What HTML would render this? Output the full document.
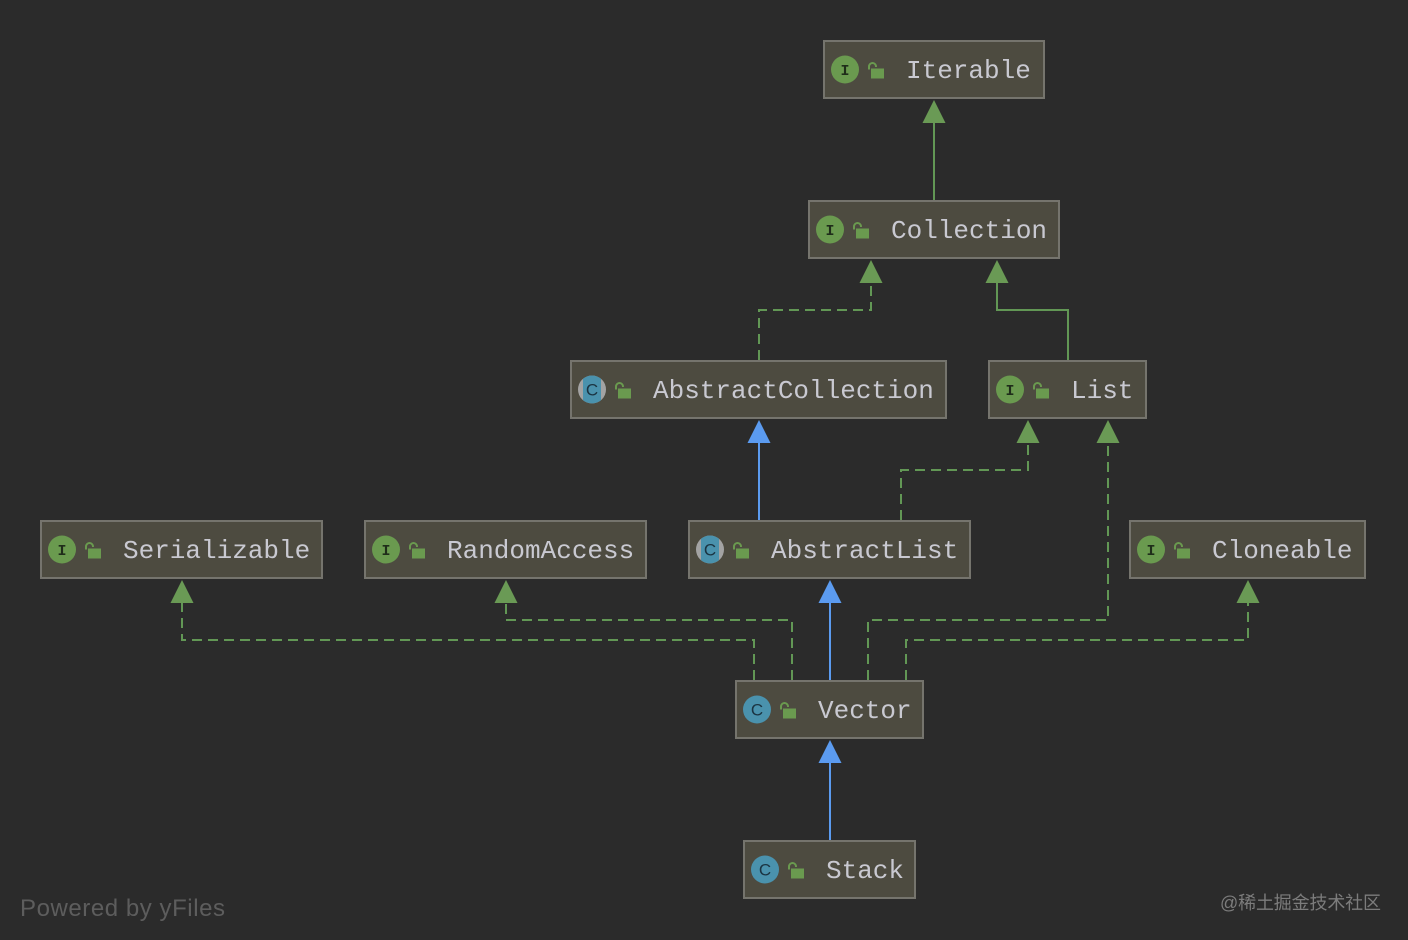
<!DOCTYPE html>
<html><head><meta charset="utf-8"><style>
html,body{margin:0;padding:0;background:#2b2b2b;}
svg{display:block;}
.t{font-family:"Liberation Mono",monospace;font-size:26px;fill:#c9c9d1;}
.ic{font-family:"Liberation Mono",monospace;font-size:15px;font-weight:bold;fill:#1f2d1a;}
.cc{font-family:"Liberation Sans",sans-serif;font-size:17px;fill:#1b3442;}
</style></head><body>
<svg width="1408" height="940" viewBox="0 0 1408 940" xmlns="http://www.w3.org/2000/svg">
<rect width="1408" height="940" fill="#2b2b2b"/>
<defs>
<g id="lock"><path d="M0 0 v-3 a3.5 3.5 0 0 1 7 0 v0.5" fill="none" stroke="#6a9a4f" stroke-width="2"/><rect x="2" y="-1" width="13" height="10" fill="#6a9a4f"/></g>
</defs>
<!-- edges -->
<g fill="none" stroke-width="2">
<path d="M934 200 V122" stroke="#629755"/>
<path d="M759 360 V310 H871 V282" stroke="#629755" stroke-dasharray="10 6"/>
<path d="M1068 360 V310 H997 V282" stroke="#629755"/>
<path d="M759 520 V442" stroke="#5b9bf0"/>
<path d="M901 520 V470 H1028 V442" stroke="#629755" stroke-dasharray="10 6"/>
<path d="M868 680 V620 H1108 V442" stroke="#629755" stroke-dasharray="10 6"/>
<path d="M754 680 V640 H182 V602" stroke="#629755" stroke-dasharray="10 6"/>
<path d="M792 680 V620 H506 V602" stroke="#629755" stroke-dasharray="10 6"/>
<path d="M830 680 V602" stroke="#5b9bf0"/>
<path d="M906 680 V640 H1248 V602" stroke="#629755" stroke-dasharray="10 6"/>
<path d="M830 840 V762" stroke="#5b9bf0"/>
</g>
<g fill="#6a9a55">
<path d="M934 100 L945.5 123 L922.5 123Z"/>
<path d="M871 260 L882.5 283 L859.5 283Z"/>
<path d="M997 260 L1008.5 283 L985.5 283Z"/>
<path d="M1028 420 L1039.5 443 L1016.5 443Z"/>
<path d="M1108 420 L1119.5 443 L1096.5 443Z"/>
<path d="M182 580 L193.5 603 L170.5 603Z"/>
<path d="M506 580 L517.5 603 L494.5 603Z"/>
<path d="M1248 580 L1259.5 603 L1236.5 603Z"/>
</g>
<g fill="#5b9bf0">
<path d="M759 420 L770.5 443 L747.5 443Z"/>
<path d="M830 580 L841.5 603 L818.5 603Z"/>
<path d="M830 740 L841.5 763 L818.5 763Z"/>
</g>
<!-- nodes -->
<g stroke="#75746d" stroke-width="2" fill="#4d4b40">
<rect x="824" y="41" width="220" height="57"/>
<rect x="809" y="201" width="250" height="57"/>
<rect x="571" y="361" width="375" height="57"/>
<rect x="989" y="361" width="157" height="57"/>
<rect x="41" y="521" width="281" height="57"/>
<rect x="365" y="521" width="281" height="57"/>
<rect x="689" y="521" width="281" height="57"/>
<rect x="1130" y="521" width="235" height="57"/>
<rect x="736" y="681" width="187" height="57"/>
<rect x="744" y="841" width="171" height="57"/>
</g>
<!-- interface icons -->
<g fill="#6a9a4f">
<circle cx="845" cy="69.5" r="14"/>
<circle cx="830" cy="229.5" r="14"/>
<circle cx="1010" cy="389.5" r="14"/>
<circle cx="62" cy="549.5" r="14"/>
<circle cx="386" cy="549.5" r="14"/>
<circle cx="1151" cy="549.5" r="14"/>
</g>
<g class="ic" text-anchor="middle">
<text x="845" y="75">I</text>
<text x="830" y="235">I</text>
<text x="1010" y="395">I</text>
<text x="62" y="555">I</text>
<text x="386" y="555">I</text>
<text x="1151" y="555">I</text>
</g>
<!-- abstract class icons -->
<clipPath id="ca1"><circle cx="592" cy="389.5" r="14"/></clipPath>
<clipPath id="ca2"><circle cx="710" cy="549.5" r="14"/></clipPath>
<circle cx="592" cy="389.5" r="14" fill="#a3a3a3"/>
<rect x="583" y="375" width="18" height="29" rx="3" fill="#4a92ad" clip-path="url(#ca1)"/>
<circle cx="710" cy="549.5" r="14" fill="#a3a3a3"/>
<rect x="701" y="535" width="18" height="29" rx="3" fill="#4a92ad" clip-path="url(#ca2)"/>
<!-- class icons -->
<circle cx="757" cy="709.5" r="14" fill="#4a92ad"/>
<circle cx="765" cy="869.5" r="14" fill="#4a92ad"/>
<g class="cc" text-anchor="middle">
<text x="592" y="395.5">C</text>
<text x="710" y="555.5">C</text>
<text x="757" y="715.5">C</text>
<text x="765" y="875.5">C</text>
</g>
<!-- locks -->
<use href="#lock" x="869" y="69.5"/>
<use href="#lock" x="854" y="229.5"/>
<use href="#lock" x="616" y="389.5"/>
<use href="#lock" x="1034" y="389.5"/>
<use href="#lock" x="86" y="549.5"/>
<use href="#lock" x="410" y="549.5"/>
<use href="#lock" x="734" y="549.5"/>
<use href="#lock" x="1175" y="549.5"/>
<use href="#lock" x="781" y="709.5"/>
<use href="#lock" x="789" y="869.5"/>
<!-- labels -->
<g class="t">
<text x="906" y="78">Iterable</text>
<text x="891" y="238">Collection</text>
<text x="653" y="398">AbstractCollection</text>
<text x="1071" y="398">List</text>
<text x="123" y="558">Serializable</text>
<text x="447" y="558">RandomAccess</text>
<text x="771" y="558">AbstractList</text>
<text x="1212" y="558">Cloneable</text>
<text x="818" y="718">Vector</text>
<text x="826" y="878">Stack</text>
</g>
<text x="20" y="916" font-family="Liberation Sans, sans-serif" font-size="24" fill="#5d5d5d" textLength="205">Powered by yFiles</text>
<text x="1220" y="909" font-family="Liberation Sans, 'Noto Sans CJK SC', sans-serif" font-size="18" fill="#7c7c7c" textLength="161">@稀土掘金技术社区</text>
</svg>
</body></html>
